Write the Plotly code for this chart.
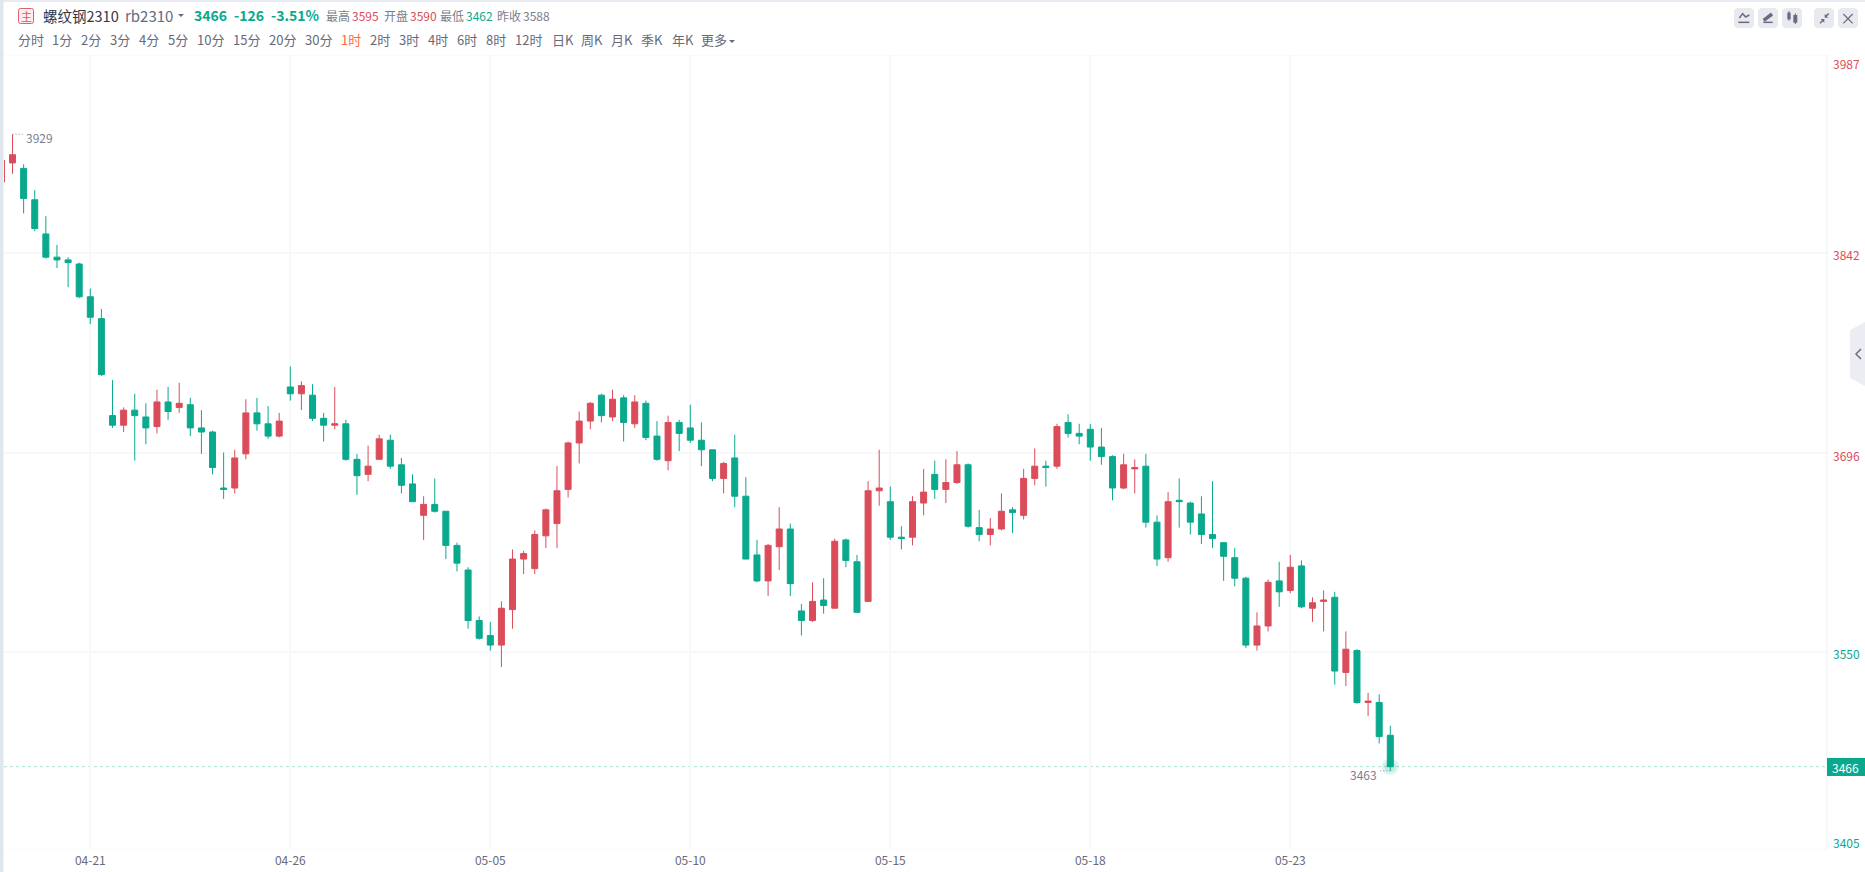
import plotly.graph_objects as go

# ---------- data ----------
candle_index = list(range(-1, 125))
opens = [3894,3908,3904,3881,3856,3839,3837,3834,3810,3794,3723,3716,3727,3722,3715,3733,3729,3731,3714,3711,3670,3670,3695,3725,3717,3708,3744,3739,3738,3721,3716,3717,3691,3680,3691,3705,3687,3673,3650,3658,3653,3628,3610,3573,3562,3555,3581,3618,3611,3635,3644,3669,3703,3719,3738,3722,3736,3717,3732,3708,3690,3718,3714,3705,3698,3677,3692,3664,3621,3602,3627,3640,3580,3573,3588,3582,3632,3616,3587,3668,3660,3634,3634,3659,3680,3669,3674,3687,3641,3636,3640,3654,3650,3677,3686,3686,3718,3710,3713,3700,3693,3670,3684,3686,3645,3619,3661,3659,3651,3636,3630,3619,3604,3555,3569,3602,3595,3613,3582,3587,3590,3535,3551,3513,3513,3489]
highs = [3910,3929,3907,3888,3869,3848,3839,3835,3816,3801,3749,3729,3739,3732,3742,3744,3747,3736,3727,3712,3696,3698,3735,3736,3730,3725,3759,3748,3746,3725,3744,3720,3695,3701,3709,3709,3692,3680,3664,3677,3653,3630,3612,3576,3572,3587,3625,3624,3639,3655,3686,3704,3726,3733,3739,3742,3738,3738,3734,3719,3723,3720,3731,3718,3698,3689,3709,3678,3632,3629,3656,3644,3585,3601,3604,3633,3633,3621,3675,3698,3671,3642,3664,3684,3690,3691,3697,3688,3654,3648,3666,3656,3684,3699,3690,3717,3724,3717,3717,3714,3694,3695,3691,3695,3650,3667,3677,3660,3664,3675,3630,3626,3605,3579,3603,3616,3621,3617,3590,3595,3594,3565,3552,3520,3519,3496]
lows = [3894,3900,3871,3858,3838,3831,3817,3809,3790,3752,3714,3711,3690,3702,3710,3720,3725,3708,3695,3680,3662,3666,3691,3712,3706,3707,3734,3727,3719,3704,3713,3690,3665,3675,3691,3684,3666,3660,3632,3652,3618,3609,3567,3559,3551,3539,3567,3607,3607,3626,3626,3663,3688,3713,3718,3719,3704,3714,3705,3690,3683,3697,3703,3686,3675,3666,3656,3618,3601,3591,3610,3591,3562,3572,3578,3582,3612,3579,3587,3657,3632,3625,3628,3650,3662,3659,3673,3641,3631,3628,3639,3637,3647,3672,3671,3684,3707,3702,3690,3687,3661,3669,3666,3641,3613,3616,3641,3636,3629,3626,3602,3598,3553,3551,3565,3583,3593,3582,3572,3565,3526,3525,3512,3503,3483,3463]
closes = [3910,3914,3882,3860,3839,3837,3835,3810,3795,3753,3716,3727,3723,3714,3733,3726,3732,3714,3711,3685,3669,3692,3725,3717,3708,3719,3739,3745,3721,3716,3717,3691,3679,3686,3706,3686,3672,3660,3658,3653,3628,3615,3573,3560,3555,3582,3618,3622,3636,3654,3668,3703,3719,3732,3723,3735,3718,3733,3707,3691,3718,3710,3705,3698,3677,3688,3664,3618,3602,3628,3640,3600,3573,3587,3584,3631,3617,3579,3668,3670,3634,3633,3660,3667,3669,3674,3687,3642,3636,3640,3653,3652,3677,3686,3685,3715,3710,3708,3700,3693,3670,3687,3685,3645,3618,3660,3660,3645,3636,3633,3620,3604,3555,3569,3601,3594,3612,3583,3586,3588,3536,3552,3513,3514,3488,3466]

date_ticks = [7, 25, 43, 61, 79, 97, 115]
date_labels = ["04-21", "04-26", "05-05", "05-10", "05-15", "05-18", "05-23"]
price_ticks = [3987, 3842, 3696, 3550, 3405]

quote = [("3466", 194), ("-126", 234), ("-3.51%", 271)]
stats = [("最高", 326, "#7a7e8e"), ("3595", 352, "#db4c5a"), ("开盘", 384, "#7a7e8e"), ("3590", 410, "#db4c5a"),
         ("最低", 440, "#7a7e8e"), ("3462", 466, "#09a98d"), ("昨收", 497, "#7a7e8e"), ("3588", 523, "#7a7e8e")]
tabs = ["分时","1分","2分","3分","4分","5分","10分","15分","20分","30分","1时","2时","3时","4时","6时","8时","12时","日K","周K","月K","季K","年K","更多"]
tab_x = [18,52,81,110,139,168,197,233,269,305,341,370,399,428,457,486,515,552,581,611,641,672,701]

# ---------- geometry and style ----------
W, H = 1865, 872
L, R, T, B = 4, 1827, 55, 850
GREEN, RED, GRID, ICON = "#09a98d", "#db4c5a", "#f7f8fa", "#686c7e"
FONT = "Noto Sans CJK SC"

def xp(px): return (px - L) / (R - L)
def yp(py): return (B - py) / (B - T)

def path(points, close=False):
    s = "M " + " L ".join(f"{xp(x):.6f} {yp(y):.6f}" for x, y in points)
    return s + (" Z" if close else "")

shapes, notes = [], []

def poly(points, fill=None, line=None, width=1, closed=True):
    shapes.append(dict(type="path", xref="paper", yref="paper", path=path(points, closed),
                       fillcolor=fill if fill else "rgba(0,0,0,0)",
                       line=dict(color=line if line else "rgba(0,0,0,0)", width=width if line else 0)))

def rect(x0, y0, x1, y1, fill, line=None):
    shapes.append(dict(type="rect", xref="paper", yref="paper", x0=xp(x0), x1=xp(x1), y0=yp(y0), y1=yp(y1),
                       fillcolor=fill, line=dict(color=line if line else fill, width=1 if line else 0)))

def rrect(x0, y0, x1, y1, r, fill, line=None):
    ax = lambda v: f"{xp(v):.6f}"
    ay = lambda v: f"{yp(v):.6f}"
    d = (f"M {ax(x0+r)} {ay(y0)} L {ax(x1-r)} {ay(y0)} Q {ax(x1)} {ay(y0)} {ax(x1)} {ay(y0+r)} "
         f"L {ax(x1)} {ay(y1-r)} Q {ax(x1)} {ay(y1)} {ax(x1-r)} {ay(y1)} L {ax(x0+r)} {ay(y1)} "
         f"Q {ax(x0)} {ay(y1)} {ax(x0)} {ay(y1-r)} L {ax(x0)} {ay(y0+r)} Q {ax(x0)} {ay(y0)} {ax(x0+r)} {ay(y0)} Z")
    shapes.append(dict(type="path", xref="paper", yref="paper", path=d, fillcolor=fill,
                       line=dict(color=line if line else fill, width=1 if line else 0)))

def text(s, px, py, size, color, anchor="left", bold=False):
    notes.append(dict(text=f"<b>{s}</b>" if bold else s, xref="paper", yref="paper", x=xp(px), y=yp(py),
                      xanchor=anchor, yanchor="middle", showarrow=False, borderpad=0, borderwidth=0,
                      font=dict(size=size, color=color, family=FONT)))

# page edges
rect(0, 0, W, 2, "#e8ecf2")
rect(0, 0, 3.5, H, "#e0e6ed")
# right axis line
shapes.append(dict(type="line", xref="paper", yref="paper", x0=1, x1=1, y0=0, y1=1, line=dict(color="#eff0f4", width=1)))
# grid lines on the top and bottom edges of the plot
for p in (price_ticks[0], price_ticks[-1]):
    shapes.append(dict(type="line", xref="paper", yref="y", x0=0, x1=1, y0=p, y1=p, layer="below",
                       line=dict(color=GRID, width=1.5)))

# header, first row
rrect(18.5, 8.5, 33.5, 23.5, 2, "#fdeef0", "#e0606e")
text("主", 26, 16, 11, "#e0505f", "center")
text("螺纹钢2310", 43, 15, 14.5, "#333644")
text("rb2310", 125, 15, 15, "#666a7a")
poly([(178, 14), (184, 14), (181, 17)], fill="#666a7a")
for s, x in quote:
    text(s, x, 15, 14, GREEN, bold=True)
for s, x, c in stats:
    text(s, x, 15, 12, c)

# header, second row
for s, x in zip(tabs, tab_x):
    text(s, x, 39, 13, "#ff6a3a" if s == "1时" else "#666a7a")
poly([(729, 40), (735, 40), (732, 43)], fill="#666a7a")

# toolbar buttons
for x0 in (1734, 1758, 1782, 1814, 1838):
    rrect(x0, 8, x0 + 20, 28, 4, "#e8eaf0")
def z(zx, zy): return (1700 + zx / 3, zy / 3)
poly([z(118, 54), z(128, 41), z(137, 51), z(148, 45)], line=ICON, width=1.5, closed=False)
poly([z(115, 67), z(148, 67)], line=ICON, width=1.5, closed=False)
poly([z(191, 61), z(216, 42)], line=ICON, width=3.5, closed=False)
poly([z(190, 67), z(218, 67)], line=ICON, width=1.5, closed=False)
poly([z(262, 38), z(272, 38), z(272, 58), z(262, 58)], fill=ICON)
poly([z(267, 33), z(267, 62)], line=ICON, width=1, closed=False)
poly([z(280, 45), z(292, 45), z(292, 68), z(280, 68)], fill=ICON)
poly([z(286, 40), z(286, 72)], line=ICON, width=1, closed=False)
poly([z(360, 70), z(369, 61)], line=ICON, width=1.5, closed=False)
poly([z(362, 57), z(373, 57), z(373, 68)], fill=ICON)
poly([z(376, 50), z(386, 41)], line=ICON, width=1.5, closed=False)
poly([z(374, 42), z(374, 53), z(385, 53)], fill=ICON)
poly([z(430, 42), z(458, 70)], line=ICON, width=1.2, closed=False)
poly([z(458, 42), z(430, 70)], line=ICON, width=1.2, closed=False)

# side handle
poly([(1865, 322), (1850, 330), (1850, 378), (1865, 386)], fill="#ecedf2")
poly([(1861, 349), (1856, 354), (1861, 359)], line=ICON, width=1.5, closed=False)

# price labels
label_offset = {3987: 8.7, 3842: 1.5, 3696: 2.5, 3550: 2, 3405: -8}
for p in price_ticks:
    y_px = B - (p - price_ticks[-1]) * (B - T) / (price_ticks[0] - price_ticks[-1])
    text(str(p), 1833, y_px + label_offset[p], 12, RED if p > 3588 else GREEN)

# last price line and tag
shapes.append(dict(type="line", xref="paper", yref="y", x0=0, x1=1, y0=closes[-1], y1=closes[-1], layer="below",
                   line=dict(color="#a6dfd2", width=1, dash="3px,3px")))
rect(1827, 758, 1865, 776, GREEN)
text(str(closes[-1]), 1846, 767, 12, "#ffffff", "center")

# high and low marks
shapes.append(dict(type="line", xref="x", yref="y", x0=0, x1=1.05, y0=max(highs), y1=max(highs),
                   line=dict(color="#8a8e9c", width=1, dash="1px,2px")))
shapes.append(dict(type="line", xref="x", yref="y", x0=123.1, x1=124, y0=min(lows), y1=min(lows),
                   line=dict(color="#8a8e9c", width=1, dash="1px,2px")))
notes.append(dict(text=str(max(highs)), xref="x", yref="y", x=0, y=max(highs), xanchor="left", yanchor="middle",
                  xshift=12, yshift=-3, showarrow=False, borderpad=0, font=dict(size=12, color="#7a7e8e", family=FONT)))
notes.append(dict(text=str(min(lows)), xref="x", yref="y", x=124, y=min(lows), xanchor="right", yanchor="middle",
                  xshift=-12, yshift=-4, showarrow=False, borderpad=0, font=dict(size=12, color="#7a7e8e", family=FONT)))

fig = go.Figure()
fig.add_trace(go.Scatter(x=[candle_index[-1]] * 2, y=[closes[-1]] * 2, mode="markers", hoverinfo="skip",
                         marker=dict(size=[17, 11], color=GREEN, opacity=0.13, line=dict(width=0))))
fig.add_trace(go.Candlestick(
    x=candle_index, open=opens, high=highs, low=lows, close=closes, hoverinfo="skip", whiskerwidth=0,
    increasing=dict(line=dict(color=RED, width=1), fillcolor=RED),
    decreasing=dict(line=dict(color=GREEN, width=1), fillcolor=GREEN)))

px_per_idx = 200 / 18
x_left = date_ticks[0] + (L - 90.3) / px_per_idx
x_right = date_ticks[0] + (R - 90.3) / px_per_idx

fig.update_layout(
    width=W, height=H, showlegend=False, paper_bgcolor="#ffffff", plot_bgcolor="#ffffff",
    margin=dict(l=L, r=W - R, t=T, b=H - B, autoexpand=False),
    font=dict(family=FONT, size=12, color="#666a7a"),
    boxgap=0.46, boxgroupgap=0, shapes=shapes, annotations=notes,
    xaxis=dict(type="linear", range=[x_left, x_right], rangeslider=dict(visible=False), tickmode="array",
               tickvals=date_ticks, ticktext=date_labels, showgrid=True, gridcolor=GRID, gridwidth=1.5, zeroline=False,
               showline=False, ticks="", ticklabelstandoff=2, tickfont=dict(size=12, color="#666a7a", family=FONT)),
    yaxis=dict(type="linear", range=[price_ticks[-1], price_ticks[0]], side="right", tickmode="array",
               tickvals=price_ticks, showticklabels=False, showgrid=True, gridcolor=GRID, gridwidth=1.5, zeroline=False,
               showline=False, ticks=""),
)
fig.write_html("out.html", config=dict(displayModeBar=False, responsive=False),
               post_script="document.body.style.margin='0';document.body.style.overflow='hidden';")
